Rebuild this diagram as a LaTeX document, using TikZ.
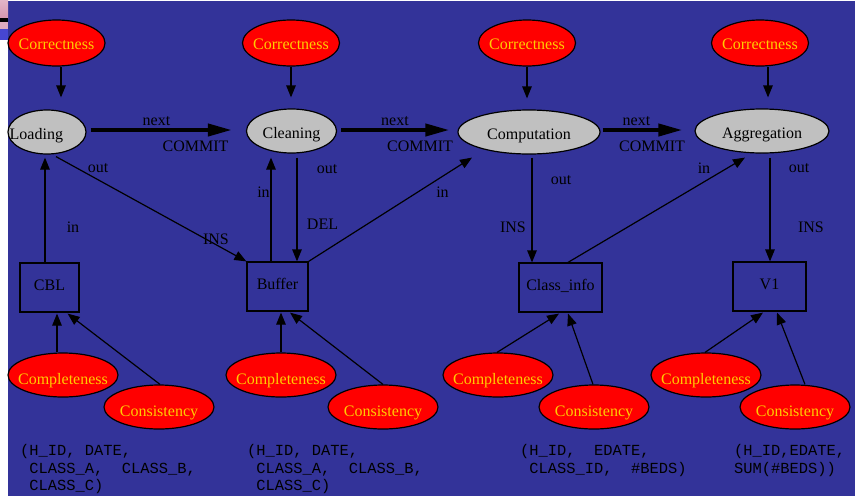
\documentclass[tikz,border=0pt]{standalone}
\usepackage{fontspec}
\setmainfont{Liberation Serif}
\setmonofont{Liberation Mono}
\usetikzlibrary{shapes.geometric,arrows.meta,calc}
\definecolor{slide}{RGB}{51,51,153}
\definecolor{qred}{RGB}{255,0,0}
\definecolor{qgold}{RGB}{255,204,0}
\definecolor{actgray}{RGB}{192,192,192}
\definecolor{tabpink}{RGB}{214,150,176}
\definecolor{tabblue}{RGB}{70,70,210}
% text of a fixed-size shape: no extent, baseline #1 below the centre
\newcommand\settext[2]{\raisebox{-#1}[0pt][0pt]{\makebox[0pt]{#2}}}

\begin{document}
\begin{tikzpicture}[x=1pt,y=-1pt,
  txt/.style={font=\fontsize{16}{18}\selectfont},
  lbl/.style={txt, inner sep=0pt},
  quality/.style={ellipse, draw=black, line width=1.2pt, fill=qred, text=qgold,
    txt, inner sep=0pt, minimum width=110pt, minimum height=44pt},
  correct/.style={quality, minimum width=97pt, minimum height=46pt},
  activity/.style={ellipse, draw=black, line width=1.2pt, fill=actgray, txt,
    inner sep=0pt, minimum height=44pt},
  store/.style={rectangle, draw=black, line width=1.2pt, txt, inner sep=0pt,
    minimum height=49pt},
  flow/.style={line width=1.2pt, -{Triangle[length=12pt,width=9.5pt]}},
  commit/.style={line width=4pt, -{Triangle[length=24pt,width=12pt]}},
  schema/.style={font={\fontsize{15.4}{17.5}\selectfont\ttfamily}, align=left,
    anchor=north west, inner sep=0pt}
]
% page and slide background
\useasboundingbox (0,0) rectangle (855,496);
\fill[white] (0,0) rectangle (855,496);
\fill[slide] (8,1) rectangle (855,496);
% slide template corner
\shade[top color=tabpink!70, bottom color=tabpink] (0,0) rectangle (8,18);
\fill[black] (0,18) rectangle (8,22);
\fill[tabpink!80] (0,22) rectangle (8,29);
\fill[tabblue] (0,29) rectangle (8,40);

% quality goals on the activities
\node[correct] (c1) at (56.5,43) {\settext{6.5pt}{Correctness}};
\node[correct] (c2) at (291,43) {\settext{6.5pt}{Correctness}};
\node[correct] (c3) at (527,43) {\settext{6.5pt}{Correctness}};
\node[correct] (c4) at (760,43) {\settext{6.5pt}{Correctness}};

% activities
\node[activity, minimum width=78pt] (l1) at (47,132)
  {\raisebox{-7pt}[0pt][0pt]{\makebox[0pt][r]{Loading\kern-16pt}}};
\node[activity, minimum width=90pt] (l2) at (291.5,131) {\settext{7pt}{Cleaning}};
\node[activity, minimum width=142pt] (l3) at (529,132) {\settext{7pt}{Computation}};
\node[activity, minimum width=134pt] (l4) at (762,131) {\settext{7pt}{Aggregation}};

% record sets
\node[store, minimum width=59pt] (cbl) at (49.5,287.5) {\settext{2.5pt}{CBL}};
\node[store, minimum width=61pt] (buf) at (277.5,286.5) {\settext{2.5pt}{Buffer}};
\node[store, minimum width=83pt] (cls) at (560.5,287.5) {\settext{2.5pt}{Class\_info}};
\node[store, minimum width=73pt] (v1) at (769.5,286.5) {\settext{2.5pt}{V1}};

% quality goals on the record sets
\node[quality] (p1) at (63,375) {\settext{9pt}{Completeness}};
\node[quality] (s1) at (159,407) {\settext{9pt}{Consistency}};
\node[quality] (p2) at (281,375) {\settext{9pt}{Completeness}};
\node[quality] (s2) at (383,407) {\settext{9pt}{Consistency}};
\node[quality] (p3) at (498,375) {\settext{9pt}{Completeness}};
\node[quality] (s3) at (594,407) {\settext{9pt}{Consistency}};
\node[quality] (p4) at (706,375) {\settext{9pt}{Completeness}};
\node[quality] (s4) at (795,407) {\settext{9pt}{Consistency}};

% correctness checks
\draw[flow] ($(c1.south)+(4.5,0)$) -- ($(c1.south |- l1.north)+(4.5,-12)$);
\draw[flow] (c2.south) -- ($(c2.south |- l2.north)+(0,-11)$);
\draw[flow] (c3.south) -- ($(c3.south |- l3.north)+(0,-11)$);
\draw[flow] ($(c4.south)+(8,0)$) -- ($(l4.north)+(6,-11)$);

% control flow
\draw[commit] ($(l1.east)+(4,-2)$) -- ($(l2.west)+(-14,-1)$);
\draw[commit] ($(l2.east)+(4,-1)$) -- ($(l3.west)+(-8,-2)$);
\draw[commit] ($(l3.east)+(2,-2)$) -- ($(l4.west)+(-12,-1)$);
\node[lbl] (n1) at (156.5,121) {next};
\node[lbl] (m1) at (195.5,146.5) {COMMIT};
\node[lbl] (n2) at (395,121) {next};
\node[lbl] (m2) at (420,146.5) {COMMIT};
\node[lbl] (n3) at (636.5,121) {next};
\node[lbl] (m3) at (652,146.5) {COMMIT};

% data flow
\draw[flow] ($(l1.south)+(9,2)$) -- (buf.north west);
\draw[flow] ($(cbl.north)+(-4.5,0)$) -- ($(l1.south)+(-2,3)$);
\draw[flow] ($(buf.north)+(-6.5,0)$) -- ($(l2.south)+(-20.5,4)$);
\draw[flow] ($(l2.south)+(5.5,4)$) -- ($(buf.north)+(19.5,0)$);
\draw[flow] (buf.north east) -- ($(l3.south)+(-57,3)$);
\draw[flow] ($(l3.south)+(3,3)$) -- ($(cls.north)+(-28.5,0)$);
\draw[flow] ($(cls.north)+(7.5,0)$) -- ($(l4.south)+(-17,4)$);
\draw[flow] ($(l4.south)+(8,4)$) -- ($(v1.north)+(0.5,0)$);

\node[lbl] (o1) at (98,168) {out};
\node[lbl] (i1) at (216,239) {INS};
\node[lbl] (r1) at (73,227) {in};
\node[lbl] (r2) at (263.5,192) {in};
\node[lbl] (o2) at (327,169) {out};
\node[lbl] (d2) at (322.5,224) {DEL};
\node[lbl] (r3) at (442.5,192) {in};
\node[lbl] (o3) at (561,180) {out};
\node[lbl] (i3) at (513,227) {INS};
\node[lbl] (r4) at (704,168) {in};
\node[lbl] (o4) at (799,168) {out};
\node[lbl] (i4) at (811,227) {INS};

% completeness and consistency checks
\draw[flow] ($(p1.north)+(-6,0)$) -- ($(cbl.south)+(7.5,1)$);
\draw[flow] ($(s1.north)+(1,0)$) -- ($(cbl.south east)+(-12,1)$);
\draw[flow] (p2.north) -- ($(buf.south)+(3.5,1)$);
\draw[flow] (s2.north) -- ($(buf.south)+(12.5,1)$);
\draw[flow] ($(p3.north)+(-1,0)$) -- ($(cls.south)+(-1.5,1)$);
\draw[flow] ($(s3.north)+(-1,0)$) -- ($(cls.south)+(7.5,1)$);
\draw[flow] ($(p4.north)+(-1,0)$) -- ($(v1.south)+(-6.5,1)$);
\draw[flow] ($(s4.north)+(10,0)$) -- ($(v1.south)+(7.5,1)$);

% record layouts
\node[schema] (t1) at (20,444.5) {(H\_ID, DATE,\\\ CLASS\_A,~~CLASS\_B,\\\ CLASS\_C)};
\node[schema] (t2) at (247,444.5) {(H\_ID, DATE,\\\ CLASS\_A,~~CLASS\_B,\\\ CLASS\_C)};
\node[schema] (t3) at (520,444.5) {(H\_ID,~~EDATE,\\\ CLASS\_ID,~~\#BEDS)};
\node[schema] (t4) at (734,444.5) {(H\_ID,EDATE,\\SUM(\#BEDS))};
\end{tikzpicture}
\end{document}
